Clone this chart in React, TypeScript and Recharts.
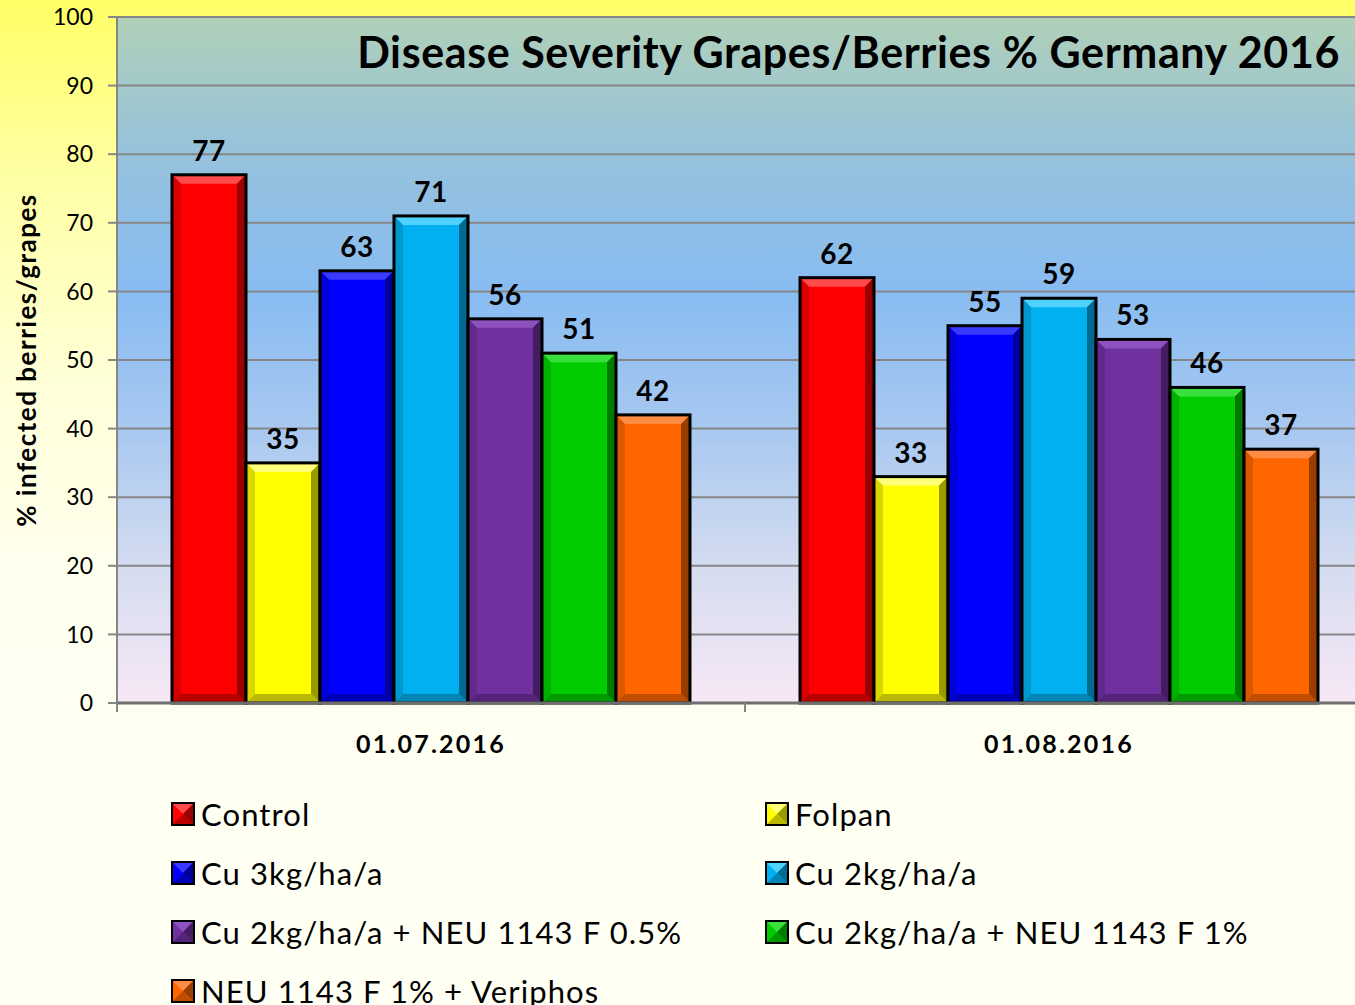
import React from 'react';
import { BarChart, Bar, XAxis, YAxis, CartesianGrid, LabelList, Legend } from 'recharts';

// ---- data ----
const categories = ['01.07.2016', '01.08.2016'];
const seriesNames = [
  'Control',
  'Folpan',
  'Cu 3kg/ha/a',
  'Cu 2kg/ha/a',
  'Cu 2kg/ha/a + NEU 1143 F 0.5%',
  'Cu 2kg/ha/a + NEU 1143 F 1%',
  'NEU 1143 F 1% + Veriphos',
];
const control = [77, 62];
const folpan = [35, 33];
const cu3 = [63, 55];
const cu2 = [71, 59];
const cu2Neu05 = [56, 53];
const cu2Neu1 = [51, 46];
const neuVeriphos = [42, 37];
const yTicks = [0, 10, 20, 30, 40, 50, 60, 70, 80, 90, 100];
const titleText = 'Disease Severity Grapes/Berries % Germany 2016';
const yLabelText = '% infected berries/grapes';

const seriesValues = [control, folpan, cu3, cu2, cu2Neu05, cu2Neu1, neuVeriphos];
const seriesKeys = ['s0', 's1', 's2', 's3', 's4', 's5', 's6'];

// ---- styles ----
const faceColors = ['#FF0000', '#FFFF00', '#0000FF', '#00B0F0', '#7030A0', '#00CC00', '#FF6600'];
const lightColors = ['#FF4A4A', '#FFFF7A', '#3A3AFF', '#50D2FF', '#8E52BE', '#3CE03C', '#FF8C44'];
const darkColors = ['#990000', '#999900', '#000099', '#006A90', '#431D60', '#007A00', '#993D00'];
const midDark = ['#B80000', '#B8B800', '#0000B8', '#0085B5', '#55247A', '#009A00', '#C04D00'];

const FONT = "Lato, 'Open Sans', sans-serif";

const data = categories.map((c, i) => {
  const row: any = { category: c };
  seriesKeys.forEach((k, s) => {
    row[k] = seriesValues[s][i];
  });
  return row;
});

const CHART_W = 1380;
const CHART_H = 1005;
const MARGIN = { top: 17, right: 7, left: 0, bottom: 242 };
const Y_AXIS_W = 117;
const PLOT_W = CHART_W - MARGIN.left - MARGIN.right - Y_AXIS_W;

function BevelBar(props: any) {
  const { x, y, width, height, si } = props;
  if (height == null || width == null || height <= 0) return null;
  const b = Math.min(9, width / 2, height / 2);
  const x2 = x + width;
  const y2 = y + height;
  return (
    <g>
      <rect x={x} y={y} width={width} height={height} fill={faceColors[si]} />
      <polygon points={`${x},${y} ${x2},${y} ${x2 - b},${y + b} ${x + b},${y + b}`} fill={lightColors[si]} />
      <polygon points={`${x},${y} ${x + b},${y + b} ${x + b},${y2 - b} ${x},${y2}`} fill={midDark[si]} opacity={0.55} />
      <polygon points={`${x2},${y} ${x2},${y2} ${x2 - b},${y2 - b} ${x2 - b},${y + b}`} fill={darkColors[si]} />
      <polygon points={`${x},${y2} ${x2},${y2} ${x2 - b},${y2 - b} ${x + b},${y2 - b}`} fill={midDark[si]} />
      <rect x={x} y={y} width={width} height={height} fill="none" stroke="#000" strokeWidth={3} />
    </g>
  );
}

function XTick(props: any) {
  const { x, y, payload } = props;
  const half = PLOT_W / categories.length / 2;
  return (
    <g>
      <line x1={x - half} y1={y} x2={x - half} y2={y + 9} stroke="#868686" strokeWidth={2} />
      <text
        x={x}
        y={y + 50}
        textAnchor="middle"
        fontFamily={FONT}
        fontWeight="bold"
        fontSize={25}
        fill="#000"
        style={{ letterSpacing: '2.2px' }}
      >
        {payload.value}
      </text>
    </g>
  );
}

function Swatch({ si }: { si: number }) {
  const s = 22;
  const c = s / 2;
  return (
    <svg width={s + 2} height={s + 2} style={{ display: 'block' }}>
      <g transform="translate(1,1)">
        <rect x={0} y={0} width={s} height={s} fill={faceColors[si]} />
        <polygon points={`0,0 ${s},0 ${c},${c}`} fill={lightColors[si]} />
        <polygon points={`${s},0 ${s},${s} ${c},${c}`} fill={darkColors[si]} />
        <polygon points={`0,${s} ${s},${s} ${c},${c}`} fill={midDark[si]} />
        <rect x={0} y={0} width={s} height={s} fill="none" stroke="#000" strokeWidth={2} />
      </g>
    </svg>
  );
}

function LegendContent() {
  return (
    <div
      style={{
        display: 'grid',
        gridTemplateColumns: '594px 594px',
        paddingLeft: 171,
        fontFamily: FONT,
        fontSize: 31,
        letterSpacing: '1.1px',
        color: '#000',
        textAlign: 'left',
      }}
    >
      {seriesNames.map((n, si) => (
        <div key={n} style={{ display: 'flex', alignItems: 'center', height: 59, whiteSpace: 'nowrap' }}>
          <Swatch si={si} />
          <span style={{ marginLeft: 6 }}>{n}</span>
        </div>
      ))}
    </div>
  );
}

export default function App() {
  return (
    <div
      style={{
        position: 'absolute',
        left: 0,
        top: 0,
        width: 1355,
        height: 1005,
        overflow: 'hidden',
        background: 'linear-gradient(to bottom, #FFFF66 0%, #FFFFA6 18%, #FFFFD8 38%, #FFFFF0 58%, #FFFFF4 100%)',
      }}
    >
      <BarChart width={CHART_W} height={CHART_H} data={data} margin={MARGIN} barGap={0} barSize={74}>
        <defs>
          <linearGradient id="plotGrad" x1="0" y1="0" x2="0" y2="1">
            <stop offset="0%" stopColor="#B0D0B8" />
            <stop offset="20%" stopColor="#96C2DC" />
            <stop offset="40%" stopColor="#88BCF2" />
            <stop offset="60%" stopColor="#A8C8F0" />
            <stop offset="80%" stopColor="#D4DCF0" />
            <stop offset="100%" stopColor="#F8E8F6" />
          </linearGradient>
        </defs>
        <CartesianGrid vertical={false} stroke="#868686" strokeWidth={2} fill="url(#plotGrad)" fillOpacity={1} />
        <XAxis
          dataKey="category"
          height={60}
          axisLine={{ stroke: '#6E6E6E', strokeWidth: 3 }}
          tickLine={false}
          tickSize={0}
          tickMargin={0}
          tick={<XTick />}
          interval={0}
        />
        <YAxis
          width={Y_AXIS_W}
          domain={[0, 100]}
          ticks={yTicks}
          interval={0}
          axisLine={{ stroke: '#868686', strokeWidth: 2 }}
          tickLine={{ stroke: '#868686', strokeWidth: 2 }}
          tickSize={9}
          tickMargin={15}
          tick={{ fill: '#000', fontSize: 23, fontFamily: FONT }}
          label={{
            value: yLabelText,
            angle: -90,
            position: 'insideLeft',
            offset: 27,
            style: {
              textAnchor: 'middle',
              fontFamily: FONT,
              fontWeight: 'bold',
              fontSize: 26,
              letterSpacing: '1.5px',
              fill: '#000',
            },
          }}
        />
        <Legend
          verticalAlign="middle"
          align="center"
          layout="horizontal"
          content={<LegendContent />}
          wrapperStyle={{ position: 'absolute', top: 784, left: 0, width: 1355, height: 240 }}
        />
        {seriesKeys.map((k, si) => (
          <Bar
            key={k}
            dataKey={k}
            name={seriesNames[si]}
            fill={faceColors[si]}
            isAnimationActive={false}
            shape={(p: any) => <BevelBar {...p} si={si} />}
          >
            <LabelList
              dataKey={k}
              position="top"
              offset={14}
              style={{ fontFamily: FONT, fontWeight: 'bold', fontSize: 28, letterSpacing: '0.5px', fill: '#000' }}
            />
          </Bar>
        ))}
      </BarChart>
      <div
        style={{
          position: 'absolute',
          right: 15,
          top: 30,
          fontFamily: FONT,
          fontWeight: 'bold',
          fontSize: 43,
          lineHeight: '43px',
          letterSpacing: '0.6px',
          color: '#000',
          whiteSpace: 'nowrap',
        }}
      >
        {titleText}
      </div>
    </div>
  );
}
